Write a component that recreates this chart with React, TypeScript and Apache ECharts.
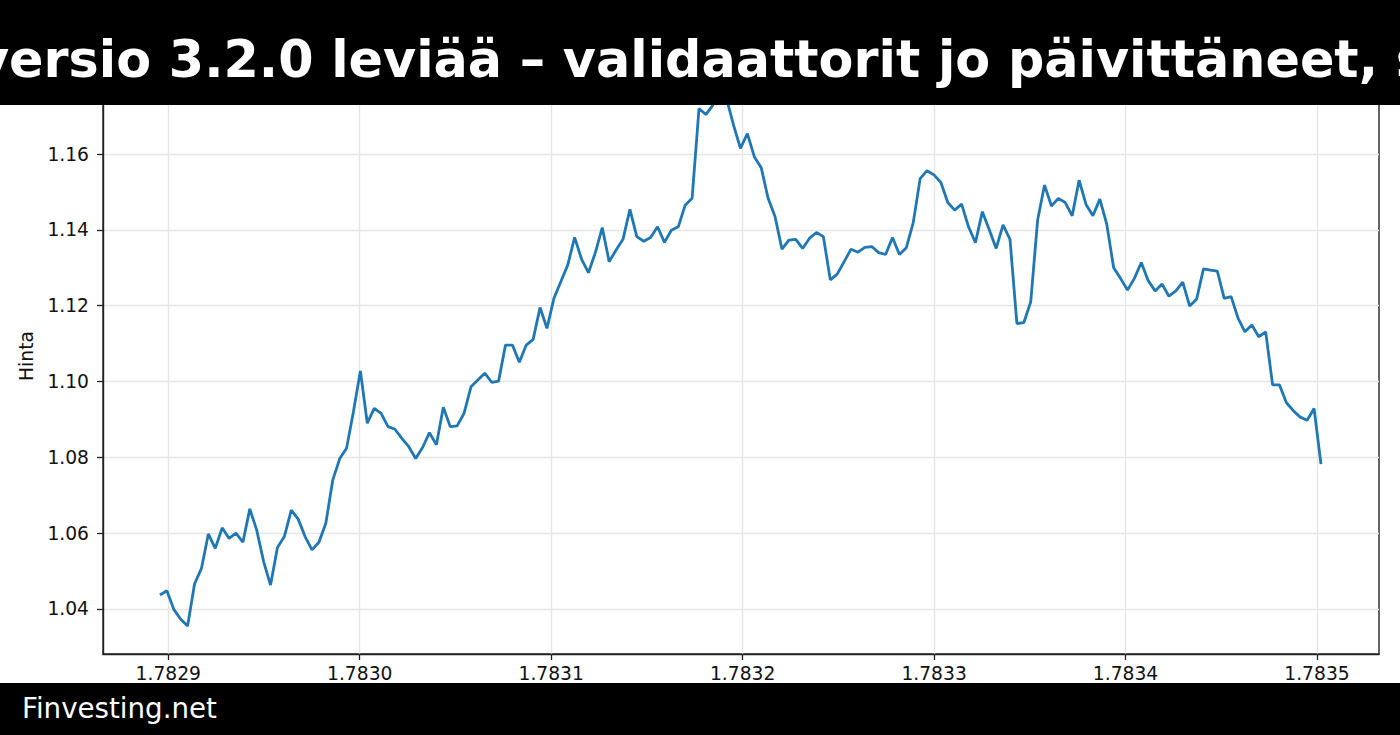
import React, { useEffect, useRef } from "react";
import * as echarts from "echarts";

// Chart texts
const titleText = "versio 3.2.0 leviää – validaattorit jo päivittäneet, s";
const footerText = "Finvesting.net";
const yAxisName = "Hinta";

// Tick labels
const xTicks = [1.7829, 1.783, 1.7831, 1.7832, 1.7833, 1.7834, 1.7835];
const yTicks = [1.04, 1.06, 1.08, 1.1, 1.12, 1.14, 1.16];

// X extent of the samples (evenly spaced)
const xFirst = 1.78289566;
const xLast = 1.78350209;

// Price values
const priceValues = [
  1.0437, 1.0448, 1.0399, 1.0373, 1.0355, 1.0466, 1.0507, 1.0598, 1.056, 1.0614,
  1.0586, 1.06, 1.0576, 1.0664, 1.0608, 1.0525, 1.0463, 1.0562, 1.0591, 1.0661,
  1.0637, 1.0591, 1.0556, 1.0576, 1.0626, 1.074, 1.0796, 1.0824, 1.0921, 1.1028,
  1.089, 1.0929, 1.0916, 1.0881, 1.0874, 1.085, 1.0828, 1.0797, 1.0826, 1.0865,
  1.0833, 1.0932, 1.0881, 1.0883, 1.0916, 1.0986, 1.1004, 1.1022, 1.0998, 1.1001,
  1.1096, 1.1096, 1.1051, 1.1096, 1.1111, 1.1195, 1.114, 1.1219, 1.1263, 1.1307,
  1.138, 1.1323, 1.1287, 1.134, 1.1406, 1.1316, 1.1347, 1.1375, 1.1454, 1.1382,
  1.137, 1.138, 1.1408, 1.1367, 1.1399, 1.1408, 1.1465, 1.1483, 1.172, 1.1704,
  1.1729, 1.1782, 1.1745, 1.1676, 1.1615, 1.1654, 1.1593, 1.1564, 1.1483, 1.1435,
  1.1349, 1.1373, 1.1375, 1.1351, 1.1378, 1.1393, 1.1382, 1.1268, 1.1283, 1.1316,
  1.1349, 1.1341, 1.1354, 1.1356, 1.134, 1.1335, 1.138, 1.1335, 1.1353, 1.1419,
  1.1535, 1.1556, 1.1545, 1.1525, 1.1472, 1.1452, 1.1468, 1.1408, 1.1366, 1.1448,
  1.14, 1.1351, 1.1413, 1.1375, 1.1153, 1.1155, 1.121, 1.1426, 1.1518, 1.1463,
  1.1483, 1.1472, 1.1437, 1.1531, 1.1467, 1.1437, 1.1481, 1.1415, 1.13, 1.1272,
  1.1241, 1.1272, 1.1314, 1.1266, 1.1239, 1.1257, 1.1225, 1.1239, 1.1262, 1.1199,
  1.1217, 1.1297, 1.1294, 1.1291, 1.1219, 1.1224, 1.1167, 1.1131, 1.1149, 1.1118,
  1.1131, 1.0991, 1.0991, 1.0944, 1.0923, 1.0906, 1.0898, 1.0929, 1.0782,
];

const FONT = '"DejaVu Sans", "Liberation Sans", sans-serif';

export default function App() {
  const ref = useRef<HTMLDivElement>(null);

  useEffect(() => {
    if (!ref.current) return;
    const chart = echarts.init(ref.current, null, { renderer: "svg" });
    const n = priceValues.length;
    const data = priceValues.map((v, i) => [
      xFirst + ((xLast - xFirst) * i) / (n - 1),
      v,
    ]);

    chart.setOption({
      animation: false,
      backgroundColor: "#ffffff",
      grid: {
        left: 103,
        right: 21,
        top: 58,
        bottom: 81,
        show: true,
        borderColor: "#222222",
        borderWidth: 1.4,
        backgroundColor: "#ffffff",
      },
      xAxis: {
        type: "value",
        min: 1.7828659,
        max: 1.7835324,
        axisLine: { show: true, lineStyle: { color: "#222222", width: 1.4 } },
        axisTick: {
          show: true,
          inside: false,
          length: 6,
          customValues: xTicks,
          lineStyle: { color: "#222222", width: 1.3 },
        },
        axisLabel: {
          customValues: xTicks,
          formatter: (v: number) => v.toFixed(4),
          color: "#111111",
          fontFamily: FONT,
          fontSize: 18.7,
          margin: 10,
        },
        splitLine: {
          show: true,
          lineStyle: { color: "#e6e6e6", width: 1.4 },
        },
      },
      yAxis: {
        type: "value",
        min: 1.02813,
        max: 1.18532,
        name: yAxisName,
        nameLocation: "middle",
        nameGap: 62,
        nameTextStyle: { color: "#111111", fontFamily: FONT, fontSize: 18.7 },
        axisLine: { show: true, lineStyle: { color: "#222222", width: 1.4 } },
        axisTick: {
          show: true,
          inside: false,
          length: 6,
          customValues: yTicks,
          lineStyle: { color: "#222222", width: 1.3 },
        },
        axisLabel: {
          customValues: yTicks,
          formatter: (v: number) => v.toFixed(2),
          color: "#111111",
          fontFamily: FONT,
          fontSize: 18.7,
          margin: 14,
        },
        splitLine: {
          show: true,
          lineStyle: { color: "#e6e6e6", width: 1.4 },
        },
      },
      series: [
        {
          type: "line",
          data,
          showSymbol: false,
          symbol: "none",
          lineStyle: { color: "#1f77b4", width: 2.8 },
          z: 3,
        },
      ],
      graphic: [
        {
          type: "rect",
          z: 100,
          shape: { x: 0, y: 0, width: 1400, height: 105 },
          style: { fill: "#000000" },
        },
        {
          type: "text",
          z: 101,
          x: -24,
          y: 59.5,
          style: {
            text: titleText,
            fill: "#ffffff",
            font: `bold 50.8px ${FONT}`,
            align: "left",
            verticalAlign: "middle",
          },
        },
        {
          type: "rect",
          z: 100,
          shape: { x: 0, y: 683, width: 1400, height: 52 },
          style: { fill: "#000000" },
        },
        {
          type: "text",
          z: 101,
          x: 22,
          y: 708,
          style: {
            text: footerText,
            fill: "#ffffff",
            font: `27.7px ${FONT}`,
            align: "left",
            verticalAlign: "middle",
          },
        },
      ],
    });

    return () => chart.dispose();
  }, []);

  return (
    <div
      ref={ref}
      style={{ position: "fixed", left: 0, top: 0, width: 1400, height: 735 }}
    />
  );
}
